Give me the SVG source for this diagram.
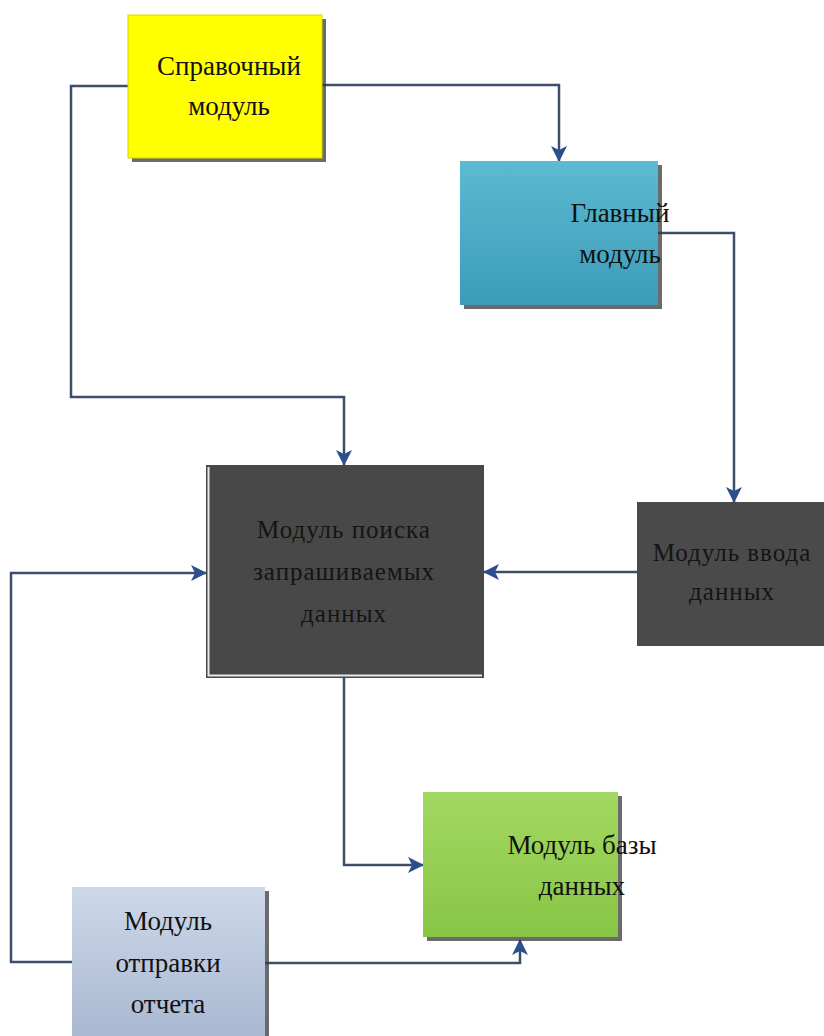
<svg xmlns="http://www.w3.org/2000/svg" width="824" height="1036" viewBox="0 0 824 1036">
  <defs>
    <linearGradient id="gCyan" x1="0" y1="0" x2="0" y2="1">
      <stop offset="0" stop-color="#5cbad2"/>
      <stop offset="1" stop-color="#3c9bb8"/>
    </linearGradient>
    <linearGradient id="gGreen" x1="0" y1="0" x2="0" y2="1">
      <stop offset="0" stop-color="#a3d862"/>
      <stop offset="1" stop-color="#88c545"/>
    </linearGradient>
    <linearGradient id="gReport" x1="0" y1="0" x2="0" y2="1">
      <stop offset="0" stop-color="#cdd7e8"/>
      <stop offset="1" stop-color="#a9b9d2"/>
    </linearGradient>
    <marker id="arrow" viewBox="0 0 16 16" refX="15" refY="8" markerWidth="16" markerHeight="16" markerUnits="userSpaceOnUse" orient="auto">
      <path d="M0,0 L16,8 L0,16 L4,8 Z" fill="#2b4f8c"/>
    </marker>
  </defs>
  <style>
    .shadow { fill: #3a3a3a; opacity: 0.75; }
    .lbl { font-family: "Liberation Serif", "Times New Roman", serif; font-size: 27px; fill: #111; text-anchor: middle; }
    .dark { font-family: "Liberation Serif", "Times New Roman", serif; font-size: 25px; fill: #141414; text-anchor: middle; letter-spacing: 1px; }
    .conn { fill: none; stroke: #3d4f68; stroke-width: 2.5; }
  </style>
  <rect width="824" height="1036" fill="#ffffff"/>

  <!-- connectors -->
  <g id="connectors">
    <path class="conn" d="M128,86 H71 V397 H344 V465" marker-end="url(#arrow)"/>
    <path class="conn" d="M322,85 H559 V161" marker-end="url(#arrow)"/>
    <path class="conn" d="M658,233 H734 V502" marker-end="url(#arrow)"/>
    <path class="conn" d="M637,572 H484" marker-end="url(#arrow)"/>
    <path class="conn" d="M344,678 V865 H423" marker-end="url(#arrow)"/>
    <path class="conn" d="M265,963 H520 V940" marker-end="url(#arrow)"/>
    <path class="conn" d="M72,962 H11 V573 H206" marker-end="url(#arrow)"/>
  </g>

  <g id="spravochny">
    <rect class="shadow" x="132" y="19" width="194" height="143"/>
    <rect x="128" y="15" width="194" height="143" fill="#ffff00" stroke="#d8d800" stroke-width="1"/>
    <text class="lbl" x="229" y="75">Справочный</text>
    <text class="lbl" x="229" y="115">модуль</text>
  </g>

  <g id="glavny">
    <rect class="shadow" x="464" y="165" width="198" height="144"/>
    <rect x="460" y="161" width="198" height="144" fill="url(#gCyan)"/>
    <text class="lbl" x="620" y="222">Главный</text>
    <text class="lbl" x="620" y="263">модуль</text>
  </g>

  <g id="poisk">
    <rect x="206" y="465" width="278" height="213" fill="#484848"/>
    <path d="M208.5,467 V675.5 H482" fill="none" stroke="#e4e8f0" stroke-width="2"/>
    <text class="dark" x="344" y="538">Модуль поиска</text>
    <text class="dark" x="344" y="580">запрашиваемых</text>
    <text class="dark" x="344" y="622">данных</text>
  </g>

  <g id="vvod">
    <rect x="637" y="502" width="187" height="144" fill="#4a4a4a"/>
    <text class="dark" x="732" y="561">Модуль ввода</text>
    <text class="dark" x="732" y="600">данных</text>
  </g>

  <g id="baza">
    <rect class="shadow" x="427" y="796" width="195" height="145"/>
    <rect x="423" y="792" width="195" height="145" fill="url(#gGreen)"/>
    <text class="lbl" x="582" y="854">Модуль базы</text>
    <text class="lbl" x="582" y="895">данных</text>
  </g>

  <g id="otchet">
    <rect class="shadow" x="76" y="891" width="193" height="150"/>
    <rect x="72" y="887" width="193" height="150" fill="url(#gReport)"/>
    <text class="lbl" x="168" y="930">Модуль</text>
    <text class="lbl" x="168" y="972">отправки</text>
    <text class="lbl" x="168" y="1013">отчета</text>
  </g>
</svg>
